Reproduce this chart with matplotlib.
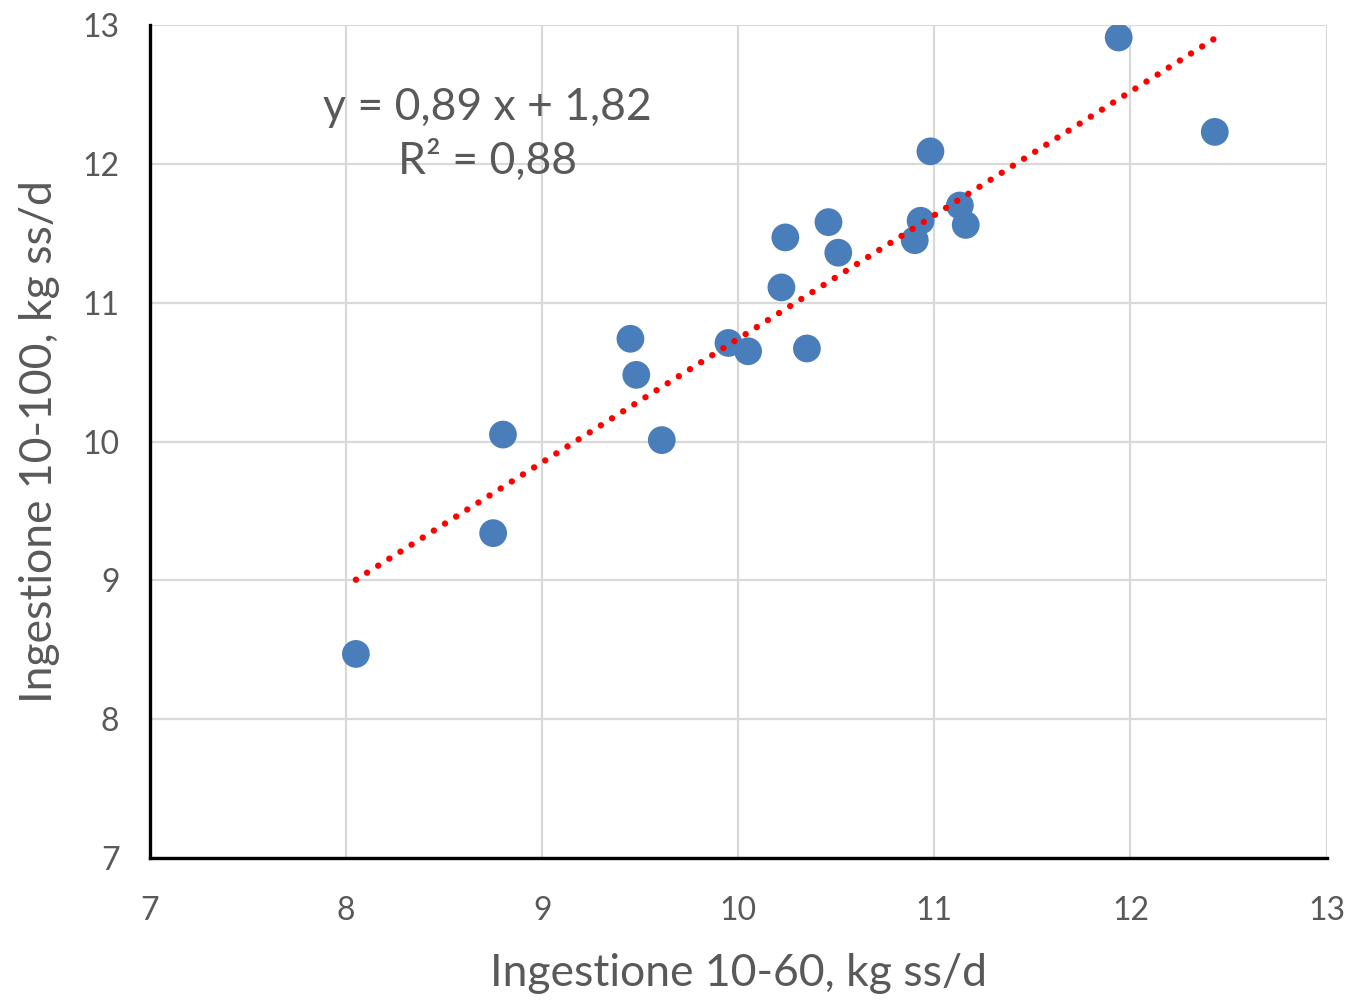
import numpy as np
import matplotlib.pyplot as plt

plt.rcParams['font.family'] = ['Lato', 'DejaVu Sans']

# Ingestione 10-60 vs 10-100 (kg ss/d)
ing_10_60 = [8.05, 8.75, 8.80, 9.45, 9.48, 9.61, 9.95, 10.05, 10.35, 10.22,
             10.24, 10.46, 10.51, 10.90, 10.93, 10.98, 11.13, 11.16, 11.94, 12.43]
ing_10_100 = [8.47, 9.34, 10.05, 10.74, 10.48, 10.01, 10.71, 10.65, 10.67, 11.11,
              11.47, 11.58, 11.36, 11.45, 11.59, 12.09, 11.70, 11.56, 12.91, 12.23]

# linear trendline as printed on the chart
slope = 0.89
intercept = 1.82
eq_text = 'y = 0,89 x + 1,82\nR² = 0,88'

ticks = [7, 8, 9, 10, 11, 12, 13]
grey = '#595959'

fig = plt.figure(figsize=(13.55, 10), dpi=100)
ax = fig.add_axes([0.1107, 0.142, 0.8683, 0.833])

x = np.array(ing_10_60)
xl = np.array([x.min(), x.max() + 0.02])
ax.plot(xl, slope * xl + intercept + 0.02, color='#ff0000', lw=4.6,
        linestyle=(0, (0.01, 2.05)), dash_capstyle='round', zorder=3)
ax.scatter(ing_10_60, ing_10_100, s=400, color='#4a7ebb', edgecolors='none', zorder=2)

ax.set_xlim(7, 13)
ax.set_ylim(7, 13)
ax.set_xticks(ticks)
ax.set_yticks(ticks)
ax.grid(True, color='#d9d9d9', lw=1.6, zorder=0)
ax.set_axisbelow(True)
ax.tick_params(length=0, labelsize=23, labelcolor=grey)
ax.tick_params(axis='x', pad=27)
ax.tick_params(axis='y', pad=22)

for side in ['top', 'right']:
    ax.spines[side].set_visible(False)
for side in ['left', 'bottom']:
    ax.spines[side].set_linewidth(2.4)
    ax.spines[side].set_color('black')

ax.set_xlabel('Ingestione 10-60, kg ss/d', fontsize=32, color=grey, labelpad=20)
ax.set_ylabel('Ingestione 10-100, kg ss/d', fontsize=32, color=grey, labelpad=16)

ax.text(8.72, 12.21, eq_text, ha='center', va='center', fontsize=32,
        color=grey, linespacing=1.35)

fig.savefig('out.png', dpi=100)
